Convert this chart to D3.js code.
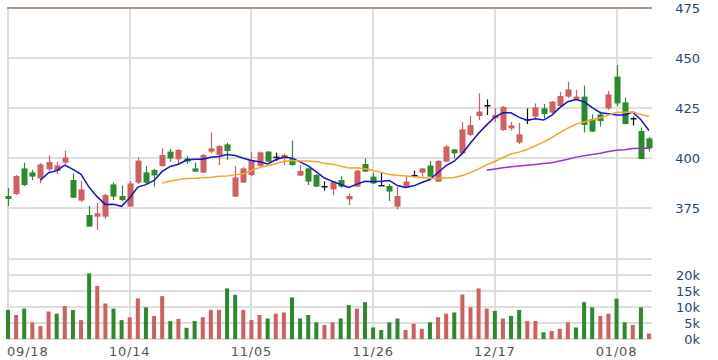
<!DOCTYPE html>
<html>
<head>
<meta charset="utf-8">
<script src="https://cdn.jsdelivr.net/npm/d3@7"></script>
<style>
  body { margin: 0; background: #fff; }
  svg { display: block; font-family: "DejaVu Sans", Verdana, sans-serif; }
</style>
</head>
<body>
<div id="chart"></div>
<script>
// koersdata per handelsdag (80 dagen)
const opens = [381, 382, 394.8, 392.8, 389.8, 394.3, 393.5, 397.7, 389, 378.7,
  371.5, 370.7, 370.7, 386.8, 381, 375.7, 387.7, 392.8, 394, 396,
  403.2, 399.3, 399.8, 394.8, 392.7, 403.2, 401.5, 406.8, 380.7, 387.7,
  391.5, 396, 403.2, 400.7, 399.8, 399.8, 391.2, 394.8, 391.5, 386,
  384.3, 389, 379.3, 385.7, 397, 390.7, 386.5, 386, 375.7, 385.7,
  391.5, 392.7, 396.2, 388.2, 398.2, 404.3, 402.3, 411.5, 421, 426.5,
  420, 414, 414.8, 407.7, 419.5, 420.7, 424.8, 422.7, 426, 430.7,
  429.3, 430.7, 419.5, 421.8, 424.8, 440.7, 427.8, 420, 413.5, 409.8];
const highs = [385, 391.5, 397.7, 394, 397.5, 401.2, 398.2, 403.7, 392.3, 388.5,
  376, 377.5, 382, 387.7, 386.3, 388.5, 400.3, 396, 394.5, 404.8,
  404.5, 404.5, 401, 397.7, 402, 412.8, 406.5, 407.7, 396, 395.5,
  403, 403.2, 403.5, 402.7, 402.3, 408.7, 396.5, 395, 392, 388.3,
  388.5, 391, 382.3, 394, 399.8, 392.7, 392.7, 387, 385.7, 390.7,
  393.7, 395, 398.5, 399, 406.5, 404.5, 418, 421, 432.3, 429.3,
  425, 426, 418, 417.5, 424.8, 427.3, 427, 428.5, 433.2, 438.2,
  434, 436.2, 421.8, 423.2, 433.5, 446.5, 430.2, 420.7, 415.2, 410.5];
const lows = [376, 381.5, 386, 389, 387.3, 393.5, 392, 397, 380, 378,
  365.5, 364, 369.5, 379, 378.5, 375.5, 387, 386.5, 385.7, 395.5,
  398.2, 396.5, 397, 393, 392.5, 402.3, 396.5, 399, 380.5, 387.5,
  391, 395.7, 398, 398.5, 396.5, 396, 391, 386.5, 385.5, 383.7,
  381.5, 385, 376.5, 385.5, 393, 387, 386, 378.5, 374.3, 385.5,
  390.3, 390.7, 390.5, 388, 398, 399.8, 402, 411, 419, 421.5,
  418, 413.5, 413.7, 407, 417, 420, 419.8, 422.5, 425.5, 430,
  429, 412.8, 413, 415.7, 424, 426, 416.8, 416.2, 399.5, 403.2];
const closes = [379.5, 391, 386.5, 390.7, 396.8, 398, 396.3, 400.2, 380.2, 384.3,
  365.7, 372.3, 381.5, 380.7, 379, 387.3, 398.7, 387.7, 391.3, 401.5,
  399.8, 404, 398.2, 393.2, 401.5, 404.8, 406, 403.5, 390.3, 394.8,
  399, 402.8, 398.2, 400.7, 401.5, 396.5, 393.5, 388.2, 385.7, 386,
  388.2, 385.7, 381, 393.7, 393.2, 387.3, 386.5, 383.2, 381, 388.2,
  391.5, 394.8, 390.7, 398.5, 405.7, 402.3, 414.3, 416.5, 423.2, 426.5,
  421.5, 425.5, 416.3, 411.8, 419.5, 425.3, 422, 428.2, 431, 434.3,
  430.7, 416.5, 413.2, 418.5, 431.8, 427.3, 417, 420, 399.5, 404.8];
// volume in duizendtallen
const volumes = [9.1, 7.5, 9.5, 5.2, 4.0, 8.6, 7.9, 10.3, 9.1, 5.9,
  20.5, 16.6, 11.1, 9.5, 5.9, 6.8, 12.7, 9.9, 7.2, 13.4,
  5.6, 6.3, 3.5, 5.6, 6.8, 9.1, 9.1, 15.8, 13.8, 9.1,
  5.9, 7.5, 6.4, 7.9, 8.3, 13.0, 6.4, 7.5, 5.2, 4.4,
  5.2, 6.4, 10.6, 9.5, 11.5, 3.6, 2.8, 5.2, 6.4, 2.8,
  4.8, 3.2, 5.2, 6.8, 7.9, 8.3, 13.9, 9.9, 15.8, 9.5,
  8.8, 6.4, 7.2, 9.1, 5.6, 5.6, 2.1, 2.5, 3.2, 5.2,
  3.6, 11.5, 9.9, 7.2, 7.9, 12.6, 5.2, 4.4, 9.9, 1.7];

const tickLabels = ["09/18", "10/14", "11/05", "11/26", "12/17", "01/08"];
const tickIndex = [0, 15, 30, 45, 60, 75];
const priceTicks = [375, 400, 425, 450, 475];
const volumeTicks = [0, 5, 10, 15, 20];
const maPeriods = [5, 20, 60];

const width = 718, height = 360;
const plotLeft = 8, plotRight = 652;
const colorUp = "#d25f5f", colorDown = "#2b8a2b";
const maColors = ["#1414cc", "#f5a623", "#9b30d8"];
const gridColor = "#dedede";

const data = opens.map((o, i) => ({
  i: i, open: o, high: highs[i], low: lows[i], close: closes[i], volume: volumes[i],
  prev: i > 0 ? closes[i - 1] : o
}));

const svg = d3.select("#chart").append("svg")
  .attr("width", width).attr("height", height);

const x = d3.scaleLinear().domain([0, 79]).range([8, 649]);
const y = d3.scaleLinear().domain([350, 475]).range([258, 8]);
const yv = d3.scaleLinear().domain([0, 25]).range([339, 259]);

// rasterlijnen, 2px breed zoals in het origineel
const grid = svg.append("g").attr("fill", gridColor);
grid.selectAll("rect.v").data(tickIndex).enter().append("rect")
  .attr("class", "v")
  .attr("x", d => Math.round(x(d)) - 1)
  .attr("y", 8).attr("width", 2).attr("height", 332);
const hLines = priceTicks.slice(0, -1).map(d => y(d))
  .concat(volumeTicks.concat([25]).map(d => yv(d)));
grid.selectAll("rect.h").data(hLines).enter().append("rect")
  .attr("class", "h")
  .attr("x", plotLeft - 1).attr("width", plotRight - plotLeft + 1)
  .attr("y", d => Math.round(d) - 1).attr("height", 2);
svg.append("rect")
  .attr("x", plotLeft - 1).attr("width", plotRight - plotLeft + 1)
  .attr("y", Math.round(y(475)) - 1).attr("height", 2)
  .attr("fill", "#ab9a8a");

// volumebalken
svg.append("g").selectAll("rect").data(data).enter().append("rect")
  .attr("x", d => x(d.i) - 2)
  .attr("width", 4)
  .attr("y", d => yv(d.volume))
  .attr("height", d => yv(0) - yv(d.volume))
  .attr("fill", d => d.close >= d.prev ? colorUp : colorDown);

// kaarsen
const candles = svg.append("g").selectAll("g").data(data).enter().append("g");
function candleColor(d) {
  if (d.close === d.open) return "#111";
  return d.close > d.open ? colorUp : colorDown;
}
candles.append("line")
  .attr("x1", d => Math.round(x(d.i)) + 0.5).attr("x2", d => Math.round(x(d.i)) + 0.5)
  .attr("y1", d => y(d.high)).attr("y2", d => y(d.low))
  .attr("stroke", candleColor).attr("stroke-width", 1.2);
candles.append("rect")
  .attr("x", d => Math.round(x(d.i)) - 2.5)
  .attr("width", 6)
  .attr("y", d => y(Math.max(d.open, d.close)))
  .attr("height", d => Math.max(1.5, Math.abs(y(d.open) - y(d.close))))
  .attr("fill", candleColor);

// voortschrijdende gemiddelden
maPeriods.forEach(function(n, k) {
  const pts = [];
  for (let i = n - 1; i < closes.length; i++) {
    pts.push({ i: i, v: d3.mean(closes.slice(i - n + 1, i + 1)) });
  }
  const line = d3.line().x(d => x(d.i)).y(d => y(d.v));
  svg.append("path").datum(pts)
    .attr("d", line)
    .attr("fill", "none")
    .attr("stroke", maColors[k])
    .attr("stroke-width", 1.5);
});

// assen
const yAxis = svg.append("g").attr("transform", "translate(700,0)")
  .call(d3.axisRight(y).tickValues(priceTicks).tickSize(0).tickPadding(0));
const vAxis = svg.append("g").attr("transform", "translate(700,0)")
  .call(d3.axisRight(yv).tickValues(volumeTicks).tickSize(0).tickPadding(0)
    .tickFormat(d => d + "k"));
[yAxis, vAxis].forEach(function(a) {
  a.select(".domain").remove();
  a.selectAll("text")
    .attr("text-anchor", "end")
    .attr("font-family", "DejaVu Sans, Verdana, sans-serif")
    .attr("font-size", 13)
    .attr("fill", "#24477a");
});

svg.append("g").selectAll("text").data(tickIndex).enter().append("text")
  .attr("x", d => d === 0 ? x(d) - 1 : x(d))
  .attr("y", 356)
  .attr("text-anchor", d => d === 0 ? "start" : "middle")
  .attr("font-size", 13)
  .attr("letter-spacing", 0.8)
  .attr("fill", "#555")
  .text((d, i) => tickLabels[i]);
</script>
</body>
</html>
